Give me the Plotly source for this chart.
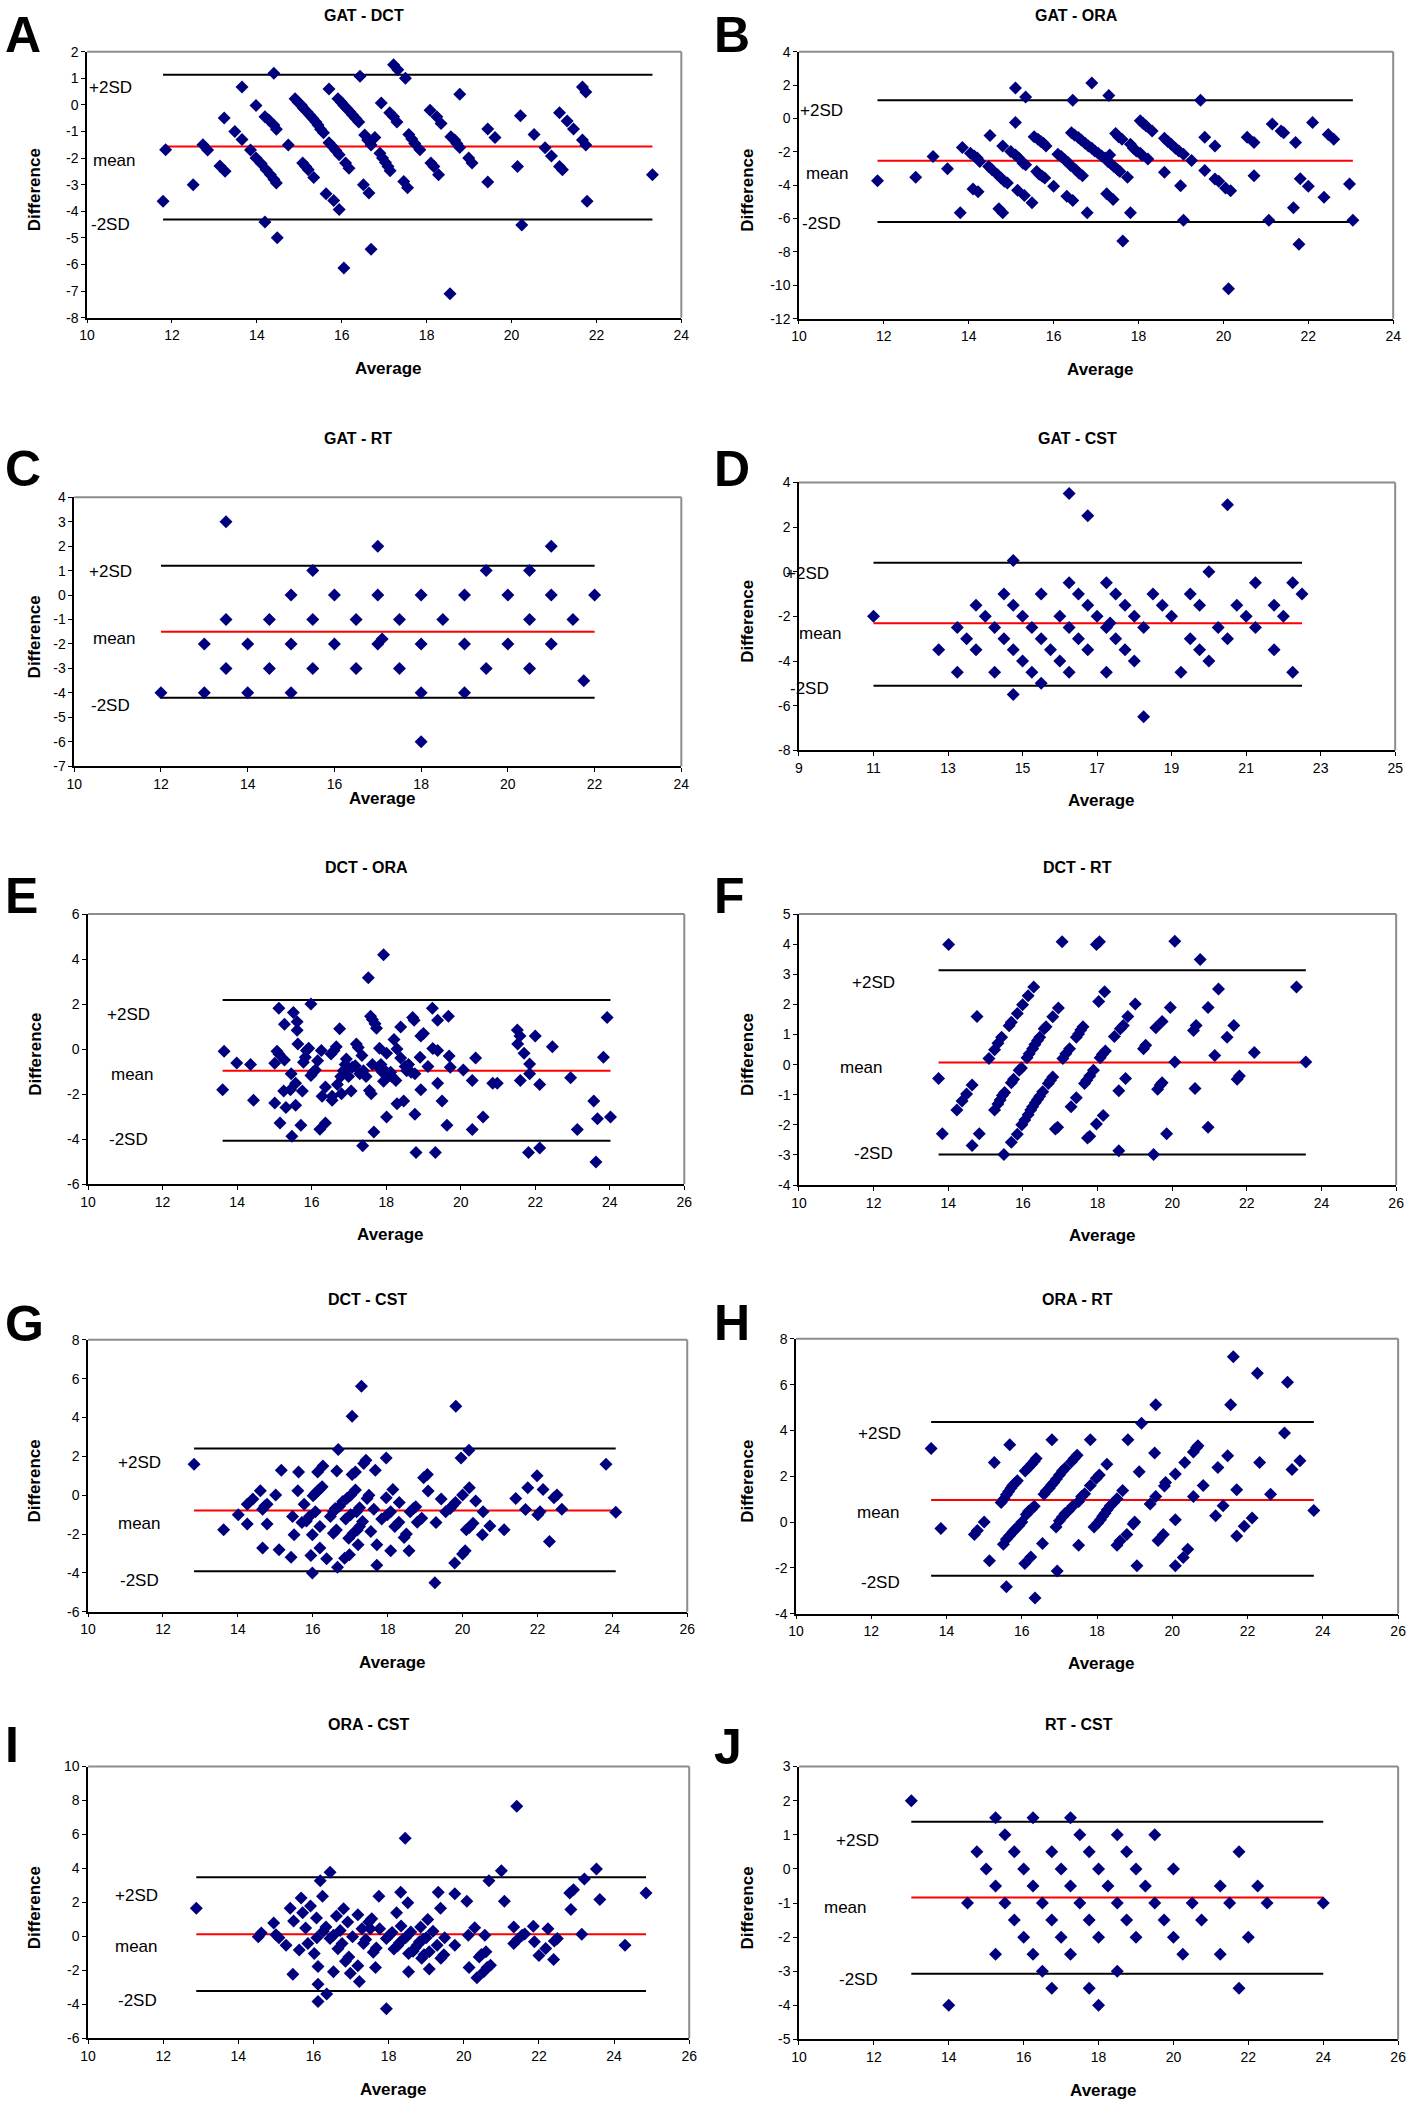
import plotly.graph_objects as go

W, H = 1418, 2110
FONT = "Liberation Sans, Arial, sans-serif"
NAVY = "#00007f"

titles = ["GAT - DCT", "GAT - ORA", "GAT - RT", "GAT - CST", "DCT - ORA",
          "DCT - RT", "DCT - CST", "ORA - RT", "ORA - CST", "RT - CST"]
letters = ["A", "B", "C", "D", "E", "F", "G", "H", "I", "J"]

# ---- A: GAT - DCT ----
a_avg = [11.79, 11.85, 12.5, 12.73, 12.84, 13.13, 13.25, 13.23, 13.48, 13.65,
         13.65, 13.85, 13.98, 13.98, 14.1, 14.19, 14.28, 14.19, 14.22, 14.32,
         14.4, 14.46, 14.4, 14.4, 14.46, 14.48, 14.74, 14.9, 14.97, 15.05,
         15.1, 15.18, 15.25, 15.32, 15.39, 15.44, 15.5, 15.57, 15.08, 15.15,
         15.21, 15.34, 15.63, 15.81, 15.94, 15.7, 15.7, 15.78, 15.86, 15.94,
         15.91, 15.99, 16.05, 16.12, 16.19, 16.26, 16.33, 16.4, 16.09, 16.17,
         16.05, 16.43, 16.51, 16.64, 16.69, 16.54, 16.61, 16.69, 16.78, 16.9,
         16.96, 17.03, 17.09, 17.14, 16.93, 17.13, 17.22, 17.3, 17.22, 17.32,
         17.5, 17.46, 17.55, 17.58, 17.65, 17.72, 17.84, 18.08, 18.24, 18.34,
         18.1, 18.17, 18.28, 18.57, 18.66, 18.71, 18.78, 18.78, 18.99, 19.07,
         18.55, 19.44, 19.61, 19.44, 20.14, 20.21, 20.24, 20.53, 20.79, 20.94,
         21.13, 21.31, 21.46, 21.13, 21.2, 21.67, 21.75, 21.67, 21.75, 21.78,
         23.32]
a_diff = [-3.62, -1.69, -3.0, -1.5, -1.7, -2.3, -2.5, -0.49, -1.0, -1.3,
          0.67, -1.7, -0.02, -2.0, -2.2, -0.45, -0.57, -4.4, -2.44, -2.63,
          -2.8, -2.94, 1.19, -0.76, -0.92, -5.0, -1.51, 0.23, 0.1, -0.01,
          -0.14, -0.26, -0.39, -0.51, -0.64, -0.76, -0.92, -1.05, -2.19, -2.32,
          -2.44, -2.73, -3.34, -3.6, -3.93, 0.6, -1.42, -1.57, -1.72, -1.88,
          0.23, 0.1, -0.02, -0.14, -0.26, -0.39, -0.51, -0.64, -2.19, -2.38,
          -6.13, 1.08, -3.0, -3.31, -5.43, -1.13, -1.32, -1.51, -1.23, -1.82,
          -2.0, -2.17, -2.32, -2.48, 0.07, -0.3, -0.45, -0.64, 1.51, 1.32,
          1.0, -2.88, -3.12, -1.11, -1.28, -1.45, -1.69, -0.2, -0.45, -0.7,
          -2.19, -2.32, -2.63, -1.2, -1.32, -1.45, -1.6, 0.4, -2.0, -2.19,
          -7.1, -0.91, -1.23, -2.9, -2.32, -0.41, -4.52, -1.11, -1.61, -1.92,
          -0.3, -0.61, -0.91, -2.32, -2.44, 0.67, 0.48, -1.32, -1.51, -3.62,
          -2.63]
a_lim = [1.13, -1.57, -4.31]  # +2SD, mean, -2SD

# ---- B: GAT - ORA ----
b_avg = [11.85, 12.75, 13.16, 13.5, 13.8, 13.85, 14.04, 14.13, 14.2, 14.26,
         14.1, 14.22, 14.47, 14.55, 14.5, 14.71, 14.8, 14.68, 14.76, 14.84,
         14.91, 14.8, 14.99, 15.1, 15.18, 15.28, 15.34, 15.1, 15.34, 15.1,
         15.15, 15.31, 15.49, 15.54, 15.63, 15.7, 15.76, 15.82, 15.6, 15.66,
         15.73, 15.79, 16.0, 16.1, 16.18, 16.26, 16.34, 16.4, 16.31, 16.45,
         16.45, 16.42, 16.49, 16.58, 16.65, 16.74, 16.82, 16.9, 16.97, 17.05,
         17.13, 17.21, 17.28, 17.35, 17.42, 17.51, 17.56, 16.52, 16.6, 16.68,
         16.79, 16.9, 17.3, 17.32, 17.25, 17.4, 17.46, 17.53, 17.61, 17.74,
         17.81, 17.63, 17.81, 17.88, 17.95, 18.04, 18.09, 18.04, 18.11, 18.18,
         18.32, 18.22, 18.61, 18.69, 18.77, 18.87, 18.95, 19.06, 18.61, 18.99,
         19.06, 19.25, 19.46, 19.56, 19.56, 19.8, 19.8, 19.89, 20.05, 20.17,
         20.12, 20.56, 20.72, 20.72, 21.07, 21.15, 21.36, 21.42, 21.7, 21.65,
         21.81, 21.78, 22.0, 22.1, 22.37, 22.47, 22.6, 22.97, 23.05]
b_diff = [-3.73, -3.53, -2.28, -3.02, -5.65, -1.75, -2.09, -2.25, -2.38, -2.58,
          -4.23, -4.39, -2.88, -3.08, -1.02, -5.42, -5.65, -3.38, -3.57, -3.77,
          -3.87, -1.65, -1.99, -2.19, -2.38, -2.68, -2.78, 1.82, 1.28, -0.24,
          -4.31, -4.62, -5.06, -1.1, -1.25, -1.39, -1.49, -1.65, -3.18, -3.34,
          -3.47, -3.57, -4.07, -2.15, -2.28, -2.48, -2.64, -2.82, -4.66, -4.92,
          1.09, -0.86, -1.0, -1.15, -1.29, -1.49, -1.65, -1.79, -1.95, -2.09,
          -2.25, -2.38, -2.58, -2.72, -2.88, -3.08, -3.18, -3.08, -3.28, -3.43,
          -5.65, 2.12, 1.38, -2.19, -4.52, -4.86, -0.9, -1.1, -1.25, -3.53,
          -5.65, -7.34, -1.55, -1.79, -1.95, -2.09, -2.23, -0.14, -0.3, -0.46,
          -0.76, -2.44, -1.19, -1.39, -1.55, -1.79, -1.95, -2.15, -3.22, -4.03,
          -6.11, -2.52, 1.09, -1.13, -3.12, -1.65, -3.63, -3.77, -4.17, -4.33,
          -10.21, -1.13, -1.45, -3.43, -6.11, -0.34, -0.76, -0.86, -1.45, -5.36,
          -3.61, -7.54, -4.07, -0.24, -4.72, -0.96, -1.25, -3.93, -6.11]
b_lim = [1.09, -2.54, -6.21]

# ---- C: GAT - RT ----
c_avg = [12, 13, 13, 13.5, 13.5, 13.5, 14, 14, 14.5, 14.5,
         15, 15, 15, 15.5, 15.5, 15.5, 16, 16, 16.5, 16.5,
         17, 17, 17, 17.1, 17.5, 17.5, 18, 18, 18, 18,
         18.5, 19, 19, 19, 19.5, 19.5, 20, 20, 20.5, 20.5,
         20.5, 21, 21, 21, 21.5, 21.75, 22]
c_diff = [-4, -2, -4, 3, -1, -3, -2, -4, -1, -3,
          0, -2, -4, 1, -1, -3, 0, -2, -1, -3,
          2, 0, -2, -1.8, -1, -3, 0, -2, -4, -6,
          -1, 0, -2, -4, 1, -3, 0, -2, 1, -1,
          -3, 2, 0, -2, -1, -3.5, 0]
c_lim = [1.2, -1.5, -4.2]

# ---- D: GAT - CST ----
d_avg = [11, 12.75, 13.25, 13.25, 13.5, 13.75, 13.75, 14, 14.25, 14.25,
         14.5, 14.5, 14.75, 14.75, 14.75, 14.75, 15, 15, 15.25, 15.25,
         15.5, 15.5, 15.5, 15.75, 16, 16, 16.25, 16.25, 16.25, 16.25,
         16.5, 16.5, 16.75, 16.75, 16.75, 17, 17.25, 17.25, 17.25, 17.35,
         17.5, 17.5, 17.75, 17.75, 18, 18, 18.25, 18.25, 18.5, 18.75,
         19, 19.25, 19.5, 19.5, 19.75, 19.75, 20, 20, 20.25, 20.5,
         20.5, 20.75, 21, 21.25, 21.25, 21.75, 21.75, 22, 22.25, 22.25,
         22.5]
d_diff = [-2, -3.5, -2.5, -4.5, -3, -1.5, -3.5, -2, -2.5, -4.5,
          -1, -3, 0.5, -1.5, -3.5, -5.5, -2, -4, -2.5, -4.5,
          -1, -3, -5, -3.5, -2, -4, 3.5, -0.5, -2.5, -4.5,
          -1, -3, 2.5, -1.5, -3.5, -2, -0.5, -2.5, -4.5, -2.3,
          -1, -3, -1.5, -3.5, -2, -4, -2.5, -6.5, -1, -1.5,
          -2, -4.5, -1, -3, -1.5, -3.5, 0, -4, -2.5, 3,
          -3, -1.5, -2, -0.5, -2.5, -1.5, -3.5, -2, -0.5, -4.5,
          -1]
d_lim = [0.4, -2.31, -5.11]

# ---- E: DCT - ORA ----
e_avg = [13.65, 13.61, 13.99, 14.36, 14.44, 15.01, 15.01, 15.07, 15.12, 15.12,
         15.15, 15.27, 15.27, 15.25, 15.31, 15.43, 15.45, 15.47, 15.51, 15.57,
         15.57, 15.61, 15.61, 15.63, 15.71, 15.78, 15.75, 15.83, 15.86, 15.92,
         15.98, 15.98, 16.04, 16.1, 16.16, 16.22, 16.26, 16.28, 16.37, 16.37,
         16.52, 16.55, 16.55, 16.6, 16.66, 16.69, 16.75, 16.78, 16.8, 16.85,
         16.9, 16.93, 16.99, 17.06, 17.09, 17.17, 17.2, 17.25, 17.29, 17.35,
         17.37, 17.39, 17.46, 17.52, 17.55, 17.58, 17.6, 17.63, 17.63, 17.67,
         17.7, 17.74, 17.79, 17.82, 17.86, 17.9, 17.93, 17.93, 17.97, 18.01,
         18.01, 18.08, 18.12, 18.15, 18.21, 18.26, 18.29, 18.29, 18.39, 18.39,
         18.47, 18.51, 18.55, 18.6, 18.67, 18.71, 18.75, 18.77, 18.77, 18.8,
         18.91, 18.93, 18.93, 19.0, 19.12, 19.24, 19.25, 19.32, 19.38, 19.38,
         19.38, 19.5, 19.63, 19.67, 19.69, 19.72, 20.07, 20.31, 20.31, 20.4,
         20.6, 20.86, 20.98, 21.52, 21.53, 21.59, 21.6, 21.7, 21.82, 21.85,
         21.85, 22.0, 22.12, 22.12, 22.46, 22.95, 23.13, 23.57, 23.63, 23.67,
         23.83, 23.93, 24.02]
e_diff = [-0.1, -1.81, -0.62, -0.69, -2.28, -0.63, -2.4, -0.1, 1.81, -0.22,
          -3.29, 1.1, -0.49, -1.87, -2.6, -1.81, -1.1, -3.88, 1.62, -1.52,
          -2.5, 1.21, 0.84, 0.22, -3.39, -0.59, -1.87, -0.37, -0.07, 0.04,
          2.0, -1.18, -1.03, -0.93, -0.52, -3.57, -0.07, -2.1, -1.69, -3.29,
          -0.22, -2.28, -2.1, -0.07, 0.1, -1.58, 0.9, -1.22, -1.99, -0.96,
          -0.69, -0.44, -1.22, -1.87, -0.81, -0.74, 0.22, 0.07, -1.1, -0.29,
          -4.3, -0.96, -1.22, 3.17, -1.84, 1.46, -1.99, 1.31, -0.69, -3.69,
          1.12, 0.92, -0.81, 0.04, -0.69, -1.03, 4.19, -1.43, -0.96, -0.19,
          -3.02, -1.18, -1.03, -1.22, 0.43, -1.4, 0.0, -2.43, -0.4, 0.98,
          -2.31, -0.78, -0.96, -0.69, -1.03, 1.4, 1.28, -1.1, -2.9, -4.6,
          -0.37, -1.81, 0.58, 0.69, -0.78, 1.81, 0.02, -4.6, -0.07, -1.52,
          1.28, -2.31, -3.39, 1.46, -0.31, -0.81, -0.93, -1.4, -3.58, -0.4,
          -3.02, -1.52, -1.52, 0.85, 0.22, 0.58, -1.4, -0.19, -4.6, -0.66,
          -1.1, 0.58, -1.58, -4.4, 0.1, -1.28, -3.58, -2.31, -5.02, -3.1,
          -0.37, 1.4, -3.02]
e_lim = [2.18, -0.96, -4.08]

# ---- F: DCT - RT ----
f_avg = [13.74, 13.84, 14.01, 14.23, 14.37, 14.49, 14.64, 14.64, 14.77, 14.83,
         15.09, 15.24, 15.33, 15.43, 15.24, 15.33, 15.39, 15.45, 15.51, 15.49,
         15.63, 15.69, 15.85, 15.99, 16.14, 16.29, 15.69, 15.75, 15.9, 15.96,
         15.69, 15.85, 15.97, 16.05, 16.14, 16.21, 16.26, 16.33, 16.39, 16.45,
         16.53, 16.11, 16.17, 16.26, 16.32, 16.39, 16.45, 16.57, 16.62, 16.8,
         16.95, 16.68, 16.74, 16.8, 16.87, 16.93, 17.05, 17.07, 17.15, 17.25,
         17.29, 17.43, 17.49, 17.55, 17.61, 17.43, 17.65, 17.71, 17.79, 17.89,
         17.73, 17.79, 17.97, 18.05, 18.03, 17.97, 18.15, 18.07, 18.13, 18.21,
         18.19, 18.45, 18.57, 18.57, 18.61, 18.69, 18.81, 18.75, 19.01, 19.23,
         19.29, 19.5, 19.56, 19.61, 19.68, 19.73, 19.73, 19.85, 19.95, 20.07,
         20.07, 20.57, 20.64, 20.61, 20.75, 20.96, 20.96, 21.14, 21.24, 21.47,
         21.65, 21.74, 21.8, 22.2, 23.33, 23.58]
f_diff = [-0.46, -2.3, 3.99, -1.51, -1.21, -0.98, -0.68, -2.69, 1.6, -2.3,
          0.2, 0.49, 0.71, 0.91, -1.51, -1.31, -1.18, -1.03, -0.93, -2.99,
          1.29, 1.41, 1.7, 1.99, 2.29, 2.58, -0.6, -0.49, -0.19, -0.11,
          -2.58, -2.31, -2.0, -1.84, -1.67, -1.51, -1.4, -1.27, -1.16, -1.05,
          -0.9, 0.23, 0.36, 0.53, 0.67, 0.8, 0.91, 1.19, 1.26, 1.59,
          1.88, -0.63, -0.52, -0.41, -2.14, -2.08, 4.08, 0.2, 0.36, 0.53,
          -1.4, 0.91, 1.02, 1.15, 1.26, -1.1, -0.63, -0.52, -0.38, -0.19,
          -2.44, -2.38, 3.99, 4.08, 2.1, -1.97, -1.69, 0.23, 0.34, 0.45,
          2.42, 0.93, -0.87, -2.86, 1.19, 1.3, 1.6, -0.46, 2.01, 0.53,
          0.64, -2.99, 1.22, -0.82, -0.68, 1.43, -0.6, -2.3, 1.9, 0.09,
          4.1, 1.13, 1.3, -0.79, 3.49, 1.9, -2.08, 0.3, 2.51, 0.91,
          1.3, -0.49, -0.38, 0.4, 2.58, 0.09]
f_lim = [3.13, 0.07, -2.99]

# ---- G: DCT - CST ----
g_avg = [12.83, 13.62, 14.01, 14.25, 14.25, 14.4, 14.6, 14.66, 14.72, 14.78,
         14.66, 14.78, 15.01, 15.1, 15.16, 15.42, 15.46, 15.5, 15.6, 15.62,
         15.71, 15.77, 15.83, 15.91, 15.95, 15.99, 15.99, 16.01, 16.07, 16.07,
         16.13, 16.13, 16.19, 16.19, 16.25, 16.19, 16.27, 16.37, 16.47, 16.55,
         16.55, 16.6, 16.63, 16.64, 16.66, 16.68, 16.72, 16.8, 16.85, 16.88,
         16.91, 16.96, 16.98, 17.01, 17.01, 17.05, 17.05, 17.08, 17.14, 17.14,
         17.17, 17.19, 17.21, 17.25, 17.25, 17.3, 17.33, 17.36, 17.42, 17.45,
         17.5, 17.55, 17.63, 17.67, 17.71, 17.71, 17.84, 17.96, 17.96, 17.99,
         18.08, 18.08, 18.14, 18.19, 18.31, 18.3, 18.44, 18.5, 18.57, 18.6,
         18.69, 18.75, 18.79, 18.91, 18.96, 19.06, 19.08, 19.26, 19.29, 19.43,
         19.55, 19.67, 19.73, 19.79, 19.81, 19.82, 19.96, 20.0, 20.0, 20.07,
         20.1, 20.17, 20.18, 20.18, 20.28, 20.35, 20.53, 20.55, 20.73, 21.11,
         21.42, 21.68, 21.74, 21.99, 22.01, 22.07, 22.15, 22.32, 22.44, 22.52,
         22.65, 23.83, 24.09]
g_diff = [1.6, -1.78, -1.01, -0.47, -1.48, -0.2, 0.23, -0.72, -0.55, -0.47,
          -2.72, -1.48, 0.01, -2.81, 1.29, -3.2, -1.1, -2.04, 0.23, 1.2,
          -1.41, -0.47, -1.33, -1.1, -3.1, -2.04, -4.0, -0.03, 0.1, -0.85,
          1.2, 0.22, 0.32, -1.61, 0.44, -2.72, 1.51, -3.27, -1.1, -0.85,
          -1.96, -0.68, -1.79, 1.25, -3.71, 2.35, -0.55, -0.33, -3.24, -1.22,
          -0.17, -2.21, -3.06, -1.01, 0.0, 4.07, 1.07, -1.96, 1.2, 0.27,
          -0.85, -1.79, -2.55, -0.65, -1.61, 5.61, -1.36, 1.63, 1.8, -0.17,
          0.0, -1.87, -0.72, 1.29, -2.55, -3.61, -1.22, 1.92, -0.13, -1.01,
          -0.85, -2.86, 0.3, -1.61, -0.38, -1.39, -2.18, -2.0, -2.86, -0.85,
          -0.68, -0.59, -1.39, -1.19, 0.9, 1.07, 0.22, -4.51, -1.41, -0.2,
          -0.85, -0.68, -0.54, -3.49, -0.37, 4.58, 1.92, 0.01, -3.03, -2.86,
          -1.78, 2.31, -1.66, 0.38, -1.44, -0.3, -2.04, -0.85, -1.58, -1.78,
          -0.17, -0.73, 0.38, 1.0, -1.0, -0.85, 0.3, -2.38, -0.13, 0.01,
          -0.72, 1.6, -0.88]
g_lim = [2.4, -0.79, -3.92]

# ---- H: ORA - RT ----
h_avg = [13.59, 13.85, 14.74, 14.82, 15.0, 15.14, 15.27, 15.45, 15.51, 15.59,
         15.59, 15.53, 15.59, 15.65, 15.71, 15.76, 15.82, 15.88, 15.68, 15.68,
         15.76, 15.82, 15.92, 16.0, 16.08, 16.09, 16.18, 16.26, 16.33, 16.38,
         16.12, 16.18, 16.26, 16.33, 16.24, 16.35, 16.55, 16.59, 16.65, 16.73,
         16.79, 16.85, 16.92, 17.0, 17.08, 17.15, 16.8, 16.91, 16.94, 17.0,
         17.08, 17.15, 17.24, 17.32, 17.39, 17.47, 17.51, 17.35, 17.51, 17.59,
         17.67, 17.82, 17.82, 17.92, 17.98, 18.06, 18.02, 18.09, 18.15, 18.21,
         18.27, 18.35, 18.44, 18.53, 18.26, 18.53, 18.61, 18.68, 18.79, 18.82,
         18.96, 19.0, 19.06, 19.12, 19.18, 19.41, 19.53, 19.56, 19.56, 19.62,
         19.76, 19.79, 19.82, 20.08, 20.08, 20.08, 20.29, 20.33, 20.41, 20.56,
         20.56, 20.64, 20.68, 20.82, 21.15, 21.21, 21.35, 21.47, 21.55, 21.62,
         21.71, 21.71, 21.91, 22.12, 22.26, 22.32, 22.61, 22.98, 23.06, 23.18,
         23.39, 23.76]
h_diff = [3.21, -0.28, -0.54, -0.37, 0.0, -1.69, 2.6, 0.86, -0.97, -0.75,
          -2.82, 1.02, 1.19, 1.34, 1.48, 1.6, 1.7, 1.81, 3.38, -0.58,
          -0.43, -0.32, -0.16, 0.0, -1.81, 2.23, 2.38, 2.52, 2.66, 2.78,
          0.33, 0.47, 0.57, 0.69, -1.52, -3.31, -0.93, 1.22, 1.36, 1.48,
          1.62, 1.73, 1.88, 2.06, 2.23, 2.35, 3.6, -0.21, -2.13, 0.06,
          0.22, 0.37, 0.5, 2.63, 2.78, 2.92, -1.01, 0.69, 0.9, 1.12,
          1.24, 1.6, 3.6, -0.21, 1.91, 2.06, -0.04, 0.1, 0.25, 0.39,
          0.54, 0.71, 0.86, 1.02, 2.52, -1.01, -0.82, 1.38, -0.54, 3.6,
          -0.08, 0.0, -1.91, 2.2, 4.32, 0.79, 3.02, 1.12, 5.12, -0.8,
          -0.54, 1.58, 1.73, 2.1, 0.1, -1.91, -1.55, 2.6, -1.19, 1.12,
          3.06, 3.24, 3.33, 1.6, 0.28, 2.38, 0.71, 2.9, 5.12, 7.22,
          1.41, -0.61, -0.18, 0.18, 6.5, 2.6, 1.22, 3.89, 6.1, 2.3,
          2.68, 0.51]
h_lim = [4.37, 0.97, -2.34]

# ---- I: ORA - CST ----
i_avg = [12.88, 14.53, 14.61, 14.94, 15.0, 15.08, 15.27, 15.38, 15.45, 15.47,
         15.62, 15.67, 15.71, 15.79, 15.85, 15.92, 16.02, 16.08, 16.09, 16.12,
         16.12, 16.12, 16.18, 16.24, 16.26, 16.33, 16.35, 16.44, 16.44, 16.53,
         16.53, 16.61, 16.65, 16.71, 16.76, 16.8, 16.85, 16.91, 16.94, 16.98,
         17.04, 17.18, 17.18, 17.22, 17.29, 17.33, 17.39, 17.47, 17.51, 17.55,
         17.59, 17.65, 17.67, 17.74, 17.76, 17.94, 17.94, 18.02, 18.09, 18.14,
         18.21, 18.24, 18.29, 18.32, 18.33, 18.38, 18.44, 18.45, 18.51, 18.51,
         18.53, 18.53, 18.59, 18.65, 18.71, 18.76, 18.82, 18.85, 18.88, 18.92,
         18.94, 19.0, 19.04, 19.08, 19.08, 19.18, 19.29, 19.32, 19.38, 19.39,
         19.47, 19.49, 19.76, 19.76, 20.08, 20.12, 20.14, 20.29, 20.35, 20.41,
         20.47, 20.53, 20.56, 20.59, 20.62, 20.67, 20.71, 21.0, 21.08, 21.33,
         21.33, 21.41, 21.44, 21.55, 21.62, 21.85, 21.88, 22.0, 22.18, 22.24,
         22.39, 22.41, 22.49, 22.82, 22.85, 22.92, 23.14, 23.21, 23.53, 23.62,
         24.29, 24.85]
i_diff = [1.67, -0.02, 0.21, 0.79, 0.11, -0.08, -0.51, 1.67, -2.22, 0.91,
          -0.8, 2.27, 1.4, 0.5, -0.41, 1.79, -1.0, 1.09, -0.08, -1.77,
          -2.81, -3.82, 3.28, 2.37, 0.31, 0.56, -3.39, 3.78, -0.12, 0.07,
          -2.07, 1.2, -0.72, 0.35, -0.41, 1.63, -1.45, 0.85, -1.2, -2.16,
          -0.02, 1.28, -1.72, -2.65, 0.46, -0.41, -0.18, 0.85, 0.46, 1.04,
          -0.92, -1.83, -0.68, 2.37, 0.46, -0.12, -4.25, 0.07, 0.23, -0.74,
          1.4, -0.55, -0.37, 2.6, 0.62, -0.18, 5.78, -0.08, 1.99, 0.07,
          -1.0, -2.07, 0.27, -0.86, -0.66, -0.51, -0.31, 0.56, -1.28, -0.16,
          -1.08, -0.08, 1.0, -0.9, -1.91, 0.31, -0.51, 2.6, 1.67, -1.28,
          -1.08, -0.08, -0.51, 2.51, 2.08, 0.07, -1.83, 0.52, -2.42, -1.2,
          -1.06, -2.07, 0.07, -0.9, -1.83, 3.28, -1.69, 3.87, 2.08, 0.56,
          -0.41, 7.66, -0.16, 0.07, 0.15, 0.6, -0.31, -1.12, -0.7, 0.46,
          -1.36, -0.27, -0.12, 2.56, 1.59, 2.75, 0.13, 3.38, 3.97, 2.18,
          -0.51, 2.56]
i_lim = [3.48, 0.13, -3.2]

# ---- J: RT - CST ----
j_avg = [13, 14, 14.5, 14.75, 15, 15.25, 15.25, 15.25, 15.5, 15.5,
         15.75, 15.75, 16, 16, 16.25, 16.25, 16.25, 16.5, 16.5, 16.75,
         16.75, 16.75, 17, 17, 17.25, 17.25, 17.25, 17.5, 17.5, 17.75,
         17.75, 17.75, 18, 18, 18, 18.25, 18.5, 18.5, 18.5, 18.75,
         18.75, 19, 19, 19.25, 19.5, 19.5, 19.75, 20, 20, 20.25,
         20.5, 20.75, 21.25, 21.25, 21.5, 21.75, 21.75, 22, 22.25, 22.5,
         24]
j_diff = [2, -4, -1, 0.5, 0, 1.5, -0.5, -2.5, 1, -1,
          0.5, -1.5, 0, -2, 1.5, -0.5, -2.5, -1, -3, 0.5,
          -1.5, -3.5, 0, -2, 1.5, -0.5, -2.5, 1, -1, 0.5,
          -1.5, -3.5, 0, -2, -4, -0.5, 1, -1, -3, 0.5,
          -1.5, 0, -2, -0.5, 1, -1, -1.5, 0, -2, -2.5,
          -1, -1.5, -0.5, -2.5, -1, 0.5, -3.5, -2, -0.5, -1,
          -1]
j_lim = [1.38, -0.84, -3.07]

panels = [(a_avg, a_diff, a_lim), (b_avg, b_diff, b_lim), (c_avg, c_diff, c_lim),
          (d_avg, d_diff, d_lim), (e_avg, e_diff, e_lim), (f_avg, f_diff, f_lim),
          (g_avg, g_diff, g_lim), (h_avg, h_diff, h_lim), (i_avg, i_diff, i_lim),
          (j_avg, j_diff, j_lim)]

# axis ranges: (min, max, step)
x_axes = [(10, 24, 2), (10, 24, 2), (10, 24, 2), (9, 25, 2), (10, 26, 2),
          (10, 26, 2), (10, 26, 2), (10, 26, 2), (10, 26, 2), (10, 26, 2)]
y_axes = [(-8, 2, 1), (-12, 4, 2), (-7, 4, 1), (-8, 4, 2), (-6, 6, 2),
          (-4, 5, 1), (-6, 8, 2), (-4, 8, 2), (-6, 10, 2), (-5, 3, 1)]

# layout in page pixels: plot box (left, right, top, bottom)
boxes = [(80, 681, 44, 312), (800, 1401, 44, 313), (67, 681, 493, 764),
         (800, 1403, 478, 748), (81, 684, 913, 1185), (800, 1404, 913, 1186),
         (81, 687, 1342, 1616), (797, 1406, 1341, 1618), (81, 689, 1772, 2046),
         (800, 1406, 1772, 2047)]
title_y = [8, 8, 434, 434, 866, 866, 1301, 1301, 1730, 1730]
avg_y = [363, 364, 797, 799, 1236, 1237, 1667, 1668, 2097, 2098]
letter_y = [27, 27, 465, 465, 895, 895, 1326, 1325, 1750, 1752]
# "+2SD", "mean", "-2SD" text positions, in data units
sd_text = [
    [(10.54, 0.64), (10.65, -2.1), (10.54, -4.5)],
    [(10.54, 0.49), (10.67, -3.32), (10.54, -6.31)],
    [(10.84, 0.96), (10.92, -1.76), (10.84, -4.5)],
    [(9.22, -0.07), (9.58, -2.79), (9.28, -5.23)],
    [(11.09, 1.52), (11.18, -1.14), (11.09, -4.01)],
    [(12.01, 2.73), (11.68, -0.11), (12.01, -2.97)],
    [(11.36, 1.68), (11.38, -1.48), (11.36, -4.38)],
    [(12.21, 3.86), (12.18, 0.43), (12.24, -2.63)],
    [(11.29, 2.41), (11.29, -0.61), (11.32, -3.76)],
    [(11.55, 0.84), (11.25, -1.13), (11.59, -3.24)],
]


def px(x):
    return x / W


def py(y):
    return 1 - y / H


def note(text, x, y, size, xref="paper", yref="paper", **kw):
    d = dict(text=text, x=x, y=y, xref=xref, yref=yref, showarrow=False,
             xanchor="center", yanchor="middle",
             font=dict(family=FONT, size=size, color="black"))
    d.update(kw)
    return d


fig = go.Figure()
annotations = []
shapes = []

for k, (avg, diff, lim) in enumerate(panels):
    n = "" if k == 0 else str(k + 1)
    xr, yr = "x" + n, "y" + n
    l, r, t, b = boxes[k]
    x0, x1, dx = x_axes[k]
    y0, y1, dy = y_axes[k]

    # limit lines span the range of the averages
    span = [min(avg), max(avg)]
    for val, col in zip(lim, ["black", "red", "black"]):
        fig.add_trace(go.Scatter(x=span, y=[val, val], mode="lines",
                                 line=dict(color=col, width=2),
                                 xaxis=xr, yaxis=yr, hoverinfo="skip"))
    fig.add_trace(go.Scatter(x=avg, y=diff, mode="markers",
                             marker=dict(symbol="diamond", size=10, color=NAVY),
                             xaxis=xr, yaxis=yr))

    xt = list(range(x0, x1 + 1, dx))
    yt = list(range(y0, y1 + 1, dy))
    common = dict(showgrid=False, zeroline=False, showline=True, linecolor="black",
                  linewidth=1.5, ticks="outside", ticklen=4, tickcolor="black",
                  ticklabeloverflow="allow",
                  tickfont=dict(family=FONT, size=14, color="black"), fixedrange=True)
    fig.update_layout(**{
        "xaxis" + n: dict(domain=[px(l), px(r)], range=[x0, x1], anchor=yr,
                          tickvals=xt, ticktext=[str(v) for v in xt], **common),
        "yaxis" + n: dict(domain=[py(b), py(t)], range=[y0, y1], anchor=xr,
                          tickvals=yt, ticktext=[str(v) for v in yt], **common),
    })

    # grey frame on top and right, like the Excel plot area
    shapes.append(dict(type="line", xref=xr + " domain", yref=yr + " domain",
                       x0=0, x1=1, y0=1, y1=1, line=dict(color="#8c8c8c", width=2)))
    shapes.append(dict(type="line", xref=xr + " domain", yref=yr + " domain",
                       x0=1, x1=1, y0=0, y1=1, line=dict(color="#8c8c8c", width=2)))

    left = k % 2 == 0
    annotations.append(note("<b>%s</b>" % titles[k], px((l + r) / 2 - 20), py(title_y[k]), 16))
    annotations.append(note("<b>Average</b>", px((l + r) / 2 + 4), py(avg_y[k]), 17))
    annotations.append(note("<b>Difference</b>", px(27 if left else 748),
                            py((t + b) / 2 + 5), 17, textangle=-90))
    annotations.append(note("<b>%s</b>" % letters[k], px(-5 if left else 712),
                            py(letter_y[k]), 50, xanchor="left"))
    for lab, (tx, ty) in zip(["+2SD", "mean", "-2SD"], sd_text[k]):
        annotations.append(note(lab, tx, ty, 17, xref=xr, yref=yr))

fig.update_layout(width=W, height=H, margin=dict(l=0, r=0, t=0, b=0),
                  paper_bgcolor="white", plot_bgcolor="white", showlegend=False,
                  annotations=annotations, shapes=shapes)

# drop the default page margin so the figure sits at the page corner
fig.write_html("out.html", config={"displayModeBar": False},
               post_script="document.body.style.margin='0';document.body.style.overflow='hidden';")
